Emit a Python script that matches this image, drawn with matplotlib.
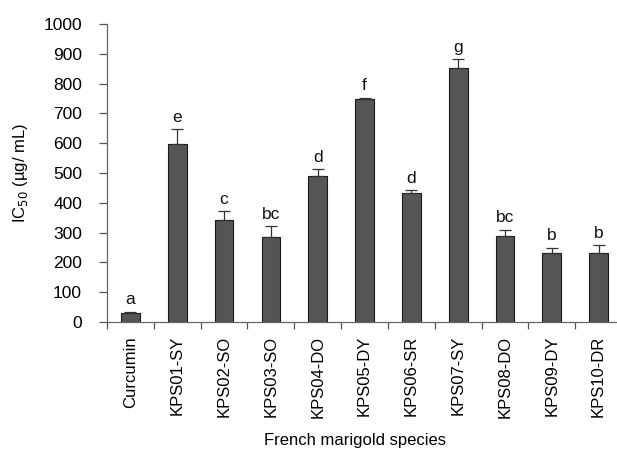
import matplotlib
matplotlib.use("Agg")
import matplotlib.pyplot as plt
import numpy as np

categories = ["Curcumin", "KPS01-SY", "KPS02-SO", "KPS03-SO", "KPS04-DO", "KPS05-DY",
              "KPS06-SR", "KPS07-SY", "KPS08-DO", "KPS09-DY", "KPS10-DR"]
values = [31, 597, 341, 285, 489, 749, 434, 853, 290, 233, 231]
errors = [4, 49, 30, 38, 25, 4, 9, 30, 20, 17, 28]
letters = ["a", "e", "c", "bc", "d", "f", "d", "g", "bc", "b", "b"]
yticks = [0, 100, 200, 300, 400, 500, 600, 700, 800, 900, 1000]

plt.rcParams['font.family'] = ['Liberation Sans', 'DejaVu Sans']

fig = plt.figure(figsize=(6.17, 4.55), dpi=100)
axw = (622 - 107) / 617
ax = fig.add_axes([107/617, 1-322/455, axw, (322-24)/455])

x = np.arange(len(categories))
ax.bar(x, values, width=0.4, color="#555555", edgecolor="#1a1a1a", linewidth=0.8, zorder=2)
ax.errorbar(x, values, yerr=[np.zeros(len(errors)), errors], fmt="none",
            ecolor="#333333", elinewidth=0.9, capsize=4, capthick=0.9, zorder=3)
for xi, v, e, l in zip(x, values, errors, letters):
    ax.annotate(l, (xi, v + e), xytext=(0, 3), textcoords="offset points",
                ha="center", va="bottom", fontsize=12.5, color="#111111")

ax.set_xlim(-0.5, len(categories) - 0.5)
ax.set_ylim(0, 1000)
ax.set_yticks(yticks)
ax.set_yticklabels([str(t) for t in yticks], fontsize=12.5)
ax.set_xticks(x)
ax.set_xticklabels(categories, rotation=90, fontsize=12)
ax.tick_params(axis="x", length=0, pad=10)
ax.set_xticks(np.arange(-0.5, len(categories)), minor=True)
ax.tick_params(axis="x", which="minor", length=5, color="#555555", width=0.9)
ax.tick_params(axis="y", length=6, color="#555555", width=0.9, pad=12)

for s in ["top", "right"]:
    ax.spines[s].set_visible(False)
for s in ["left", "bottom"]:
    ax.spines[s].set_color("#666666")
    ax.spines[s].set_linewidth(0.9)

ax.set_ylabel("IC$_{50}$ (µg/ mL)", fontsize=12)
ax.yaxis.set_label_coords((30 - 107) / 617 / axw, 0.5)
fig.text(355/617, 1-440/455, "French marigold species", ha="center", va="center", fontsize=12)

fig.savefig("out.png", dpi=100)
